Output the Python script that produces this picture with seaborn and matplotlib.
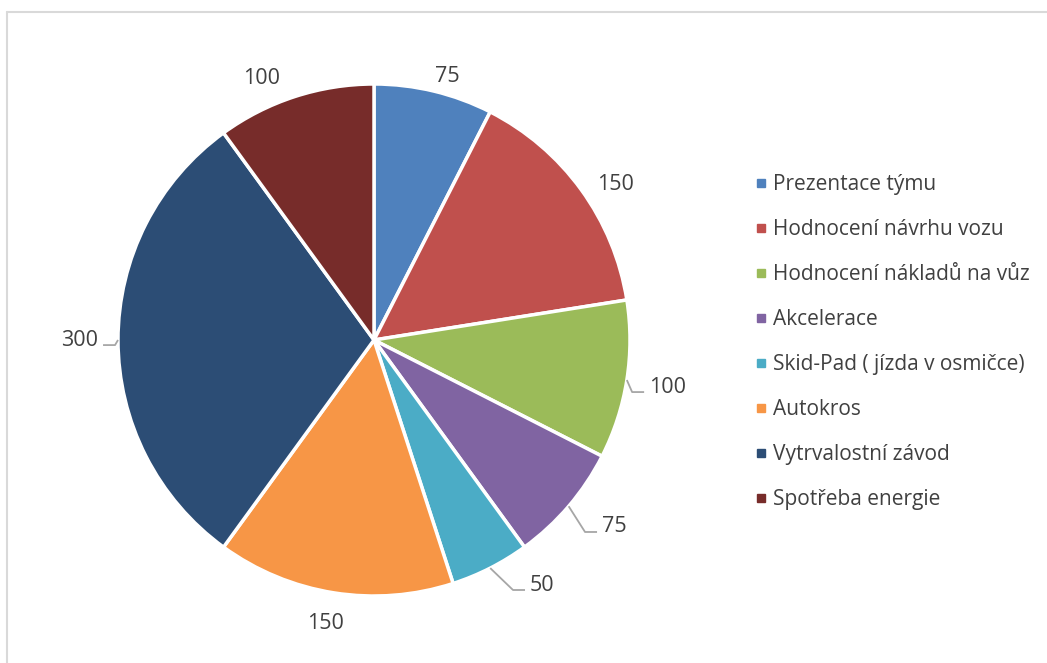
import matplotlib
matplotlib.use("Agg")
import matplotlib.pyplot as plt
import seaborn as sns
import numpy as np
from matplotlib.lines import Line2D

categories = ["Prezentace týmu", "Hodnocení návrhu vozu", "Hodnocení nákladů na vůz",
              "Akcelerace", "Skid-Pad ( jízda v osmičce)", "Autokros",
              "Vytrvalostní závod", "Spotřeba energie"]
values = [75, 150, 100, 75, 50, 150, 300, 100]
colors = ["#4F81BD", "#C0504D", "#9BBB59", "#8064A2", "#4BACC6", "#F79646", "#2C4D75", "#772C2A"]

sns.set_theme(style="white")
plt.rcParams['font.family'] = ['Open Sans', 'DejaVu Sans']
palette = sns.color_palette(colors)

W, H = 1047, 663
fig = plt.figure(figsize=(W / 100, H / 100), dpi=100)
cx, cy, R = 374, 340, 256
ax = fig.add_axes([(cx - R) / W, (H - cy - R) / H, 2 * R / W, 2 * R / H])
wedges, _ = ax.pie(values, colors=palette, startangle=90, counterclock=False,
                   radius=1.0, wedgeprops=dict(edgecolor="white", linewidth=2.5))
ax.set_xlim(-1, 1)
ax.set_ylim(-1, 1)
ax.set_aspect("equal")
ax.axis("off")

px = 1.0 / R  # one pixel in data units
# label placement: (radius, angle offset deg, leader line)
label_style = [(1.074, -1.9, False), (1.124, -2.9, False), (1.089, -0.3, True),
               (1.147, 1.45, True), (1.128, 5.7, True), (1.118, -0.86, False),
               (1.078, -0.4, True), (1.120, 5.0, False)]
txtcol = "#404040"
for w, v, (r, off, lead) in zip(wedges, values, label_style):
    mid_deg = (w.theta1 + w.theta2) / 2
    mid = np.deg2rad(mid_deg + off)
    x, y = r * np.cos(mid), r * np.sin(mid)
    ha = "center"
    if lead:
        emid = np.deg2rad(mid_deg)
        ex, ey = np.cos(emid), np.sin(emid)
        sgn = 1 if x > 0 else -1
        ly = y - 7 * px
        lend = x - sgn * 5 * px
        kink = lend - sgn * 12 * px
        ax.plot([ex, kink, lend], [ey, ly, ly], color="#A6A6A6",
                lw=1.3, clip_on=False, solid_capstyle="butt")
        ha = "left" if sgn > 0 else "right"
    ax.text(x, y - 2 * px, str(v), ha=ha, va="center", fontsize=15.5, color=txtcol)

handles = [Line2D([0], [0], marker="s", linestyle="none", markersize=6,
                  markerfacecolor=c, markeredgecolor=c) for c in palette]
fig.legend(handles, categories, loc="upper left", bbox_to_anchor=(746 / W, 1 - 166 / H),
           frameon=False, fontsize=15, labelspacing=1.15, handlelength=0.6,
           handletextpad=0.3, borderaxespad=0, labelcolor=txtcol)

fig.add_artist(Line2D([7 / W, 1], [1 - 12 / H, 1 - 12 / H], color="#D9D9D9", lw=1.5,
                      transform=fig.transFigure))
fig.add_artist(Line2D([7 / W, 7 / W], [0, 1 - 12 / H], color="#D9D9D9", lw=1.5,
                      transform=fig.transFigure))

fig.savefig("out.png", dpi=100, facecolor="white")
